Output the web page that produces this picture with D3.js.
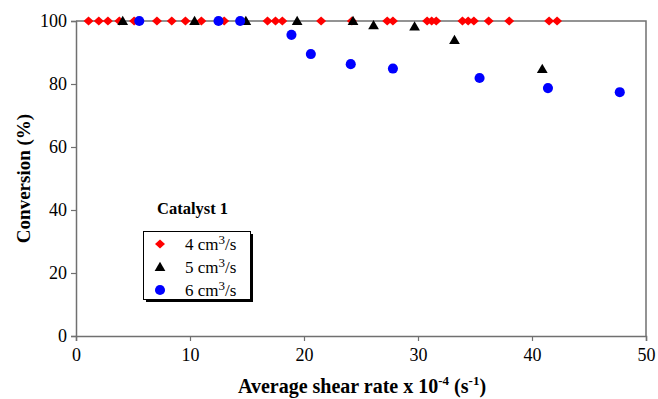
<!DOCTYPE html>
<html>
<head>
<meta charset="utf-8">
<script src="https://cdn.jsdelivr.net/npm/d3@7"></script>
<style>
  html, body { margin: 0; padding: 0; background: #fff; }
  svg { display: block; font-family: "Liberation Serif", "Times New Roman", serif; }
</style>
</head>
<body>
<svg id="chart" width="658" height="399"></svg>
<script>
// Conversion vs. average shear rate, Catalyst 1, three flow rates
const xTicks = [0, 10, 20, 30, 40, 50];
const yTicks = [0, 20, 40, 60, 80, 100];

// 4 cm3/s
const shear4 = [1.1, 2.0, 2.8, 3.8, 5.1, 7.1, 8.4, 9.6, 11.0, 13.0, 16.8, 17.5, 18.1, 21.5, 24.2, 27.3, 27.8, 30.8, 31.2, 31.6, 33.9, 34.4, 34.9, 36.2, 38.0, 41.5, 42.2];
const conv4  = [100, 100, 100, 100, 100, 100, 100, 100, 100, 100, 100, 100, 100, 100, 100, 100, 100, 100, 100, 100, 100, 100, 100, 100, 100, 100, 100];

// 5 cm3/s
const shear5 = [4.1, 10.4, 14.9, 19.4, 24.3, 26.1, 29.7, 33.2, 40.9];
const conv5  = [100, 100, 100, 100, 100, 98.7, 98.3, 94.0, 84.8];

// 6 cm3/s
const shear6 = [5.55, 12.5, 14.4, 18.9, 20.6, 24.1, 27.8, 35.4, 41.4, 47.7];
const conv6  = [100, 100, 100, 95.6, 89.5, 86.3, 84.9, 81.9, 78.7, 77.4];

const seriesLabels = ["4 cm", "5 cm", "6 cm"];
const legendTitle = "Catalyst 1";

const svg = d3.select("#chart");
const margin = { left: 76, right: 12, top: 21, bottom: 63 };
const W = 658, H = 399;

const x = d3.scaleLinear().domain([0, 50]).range([margin.left, W - margin.right]);
const y = d3.scaleLinear().domain([0, 100]).range([H - margin.bottom, margin.top]);

const axisColor = "#707070";

// plot frame: top and right edges
svg.append("path")
  .attr("d", `M${x(0)},${y(100)}H${x(50)}V${y(0)}`)
  .attr("fill", "none").attr("stroke", axisColor).attr("stroke-width", 1.5);

// axes
const xAxis = svg.append("g")
  .attr("transform", `translate(0,${y(0)})`)
  .call(d3.axisBottom(x).tickValues(xTicks).tickSize(5).tickPadding(5));
const yAxis = svg.append("g")
  .attr("transform", `translate(${x(0)},0)`)
  .call(d3.axisLeft(y).tickValues(yTicks).tickSize(5).tickPadding(4));

[xAxis, yAxis].forEach(g => {
  g.attr("font-family", null);
  g.select(".domain").attr("stroke", axisColor).attr("stroke-width", 1.5);
  g.selectAll(".tick line").attr("stroke", axisColor).attr("stroke-width", 1.2);
  g.selectAll(".tick text")
    .attr("fill", "#000")
    .style("font-family", "'Liberation Serif', serif")
    .style("font-size", "18px");
});
xAxis.selectAll(".tick text").attr("dy", "0.85em");

// axis titles
svg.append("text")
  .attr("x", 362).attr("y", 393)
  .attr("text-anchor", "middle")
  .style("font-size", "20px").style("font-weight", "bold")
  .call(t => {
    t.append("tspan").text("Average shear rate x 10");
    t.append("tspan").attr("dy", -8).style("font-size", "13px").text("-4");
    t.append("tspan").attr("dy", 8).text(" (s");
    t.append("tspan").attr("dy", -8).style("font-size", "13px").text("-1");
    t.append("tspan").attr("dy", 8).text(")");
  });

svg.append("text")
  .attr("transform", `translate(30,${(y(0) + y(100)) / 2}) rotate(-90)`)
  .attr("text-anchor", "middle")
  .style("font-size", "19px").style("font-weight", "bold")
  .text("Conversion (%)");

// marker symbols: a squat diamond, a triangle and a dot
const squatDiamond = {
  draw(ctx, size) {
    const w = Math.sqrt(size) * 0.72, h = w * 0.9;
    ctx.moveTo(0, -h); ctx.lineTo(w, 0); ctx.lineTo(0, h); ctx.lineTo(-w, 0); ctx.closePath();
  }
};
const diamond = d3.symbol().type(squatDiamond).size(48);
const triangle = d3.symbol().type(d3.symbolTriangle).size(50);
const circle = d3.symbol().type(d3.symbolCircle).size(80);

const series = [
  { xs: shear4, ys: conv4, sym: diamond, color: "#ff0000", dy: 0 },
  { xs: shear5, ys: conv5, sym: triangle, color: "#000000", dy: 1 },
  { xs: shear6, ys: conv6, sym: circle, color: "#0000ff", dy: 0 }
];

series.forEach(s => {
  svg.append("g")
    .selectAll("path")
    .data(d3.zip(s.xs, s.ys))
    .join("path")
    .attr("d", s.sym)
    .attr("transform", d => `translate(${x(d[0])},${y(d[1]) + s.dy})`)
    .attr("fill", s.color);
});

// legend
svg.append("text")
  .attr("x", 157).attr("y", 214)
  .style("font-size", "16.5px").style("font-weight", "bold")
  .text(legendTitle);

const lg = svg.append("g");
// drop shadow
lg.append("rect")
  .attr("x", 146).attr("y", 234).attr("width", 107).attr("height", 68)
  .attr("fill", "#000");
lg.append("rect")
  .attr("x", 143.5).attr("y", 231.5).attr("width", 107).attr("height", 68)
  .attr("fill", "#fff").attr("stroke", "#000").attr("stroke-width", 1);

series.forEach((s, i) => {
  const cy = 244 + i * 23;
  lg.append("path")
    .attr("d", s.sym)
    .attr("transform", `translate(160,${cy + s.dy})`)
    .attr("fill", s.color);
  const t = lg.append("text")
    .attr("x", 185).attr("y", cy + 5.5)
    .style("font-size", "17px");
  t.append("tspan").text(seriesLabels[i]);
  t.append("tspan").attr("dy", -6).style("font-size", "13px").text("3");
  t.append("tspan").attr("dy", 6).text("/s");
});
</script>
</body>
</html>
